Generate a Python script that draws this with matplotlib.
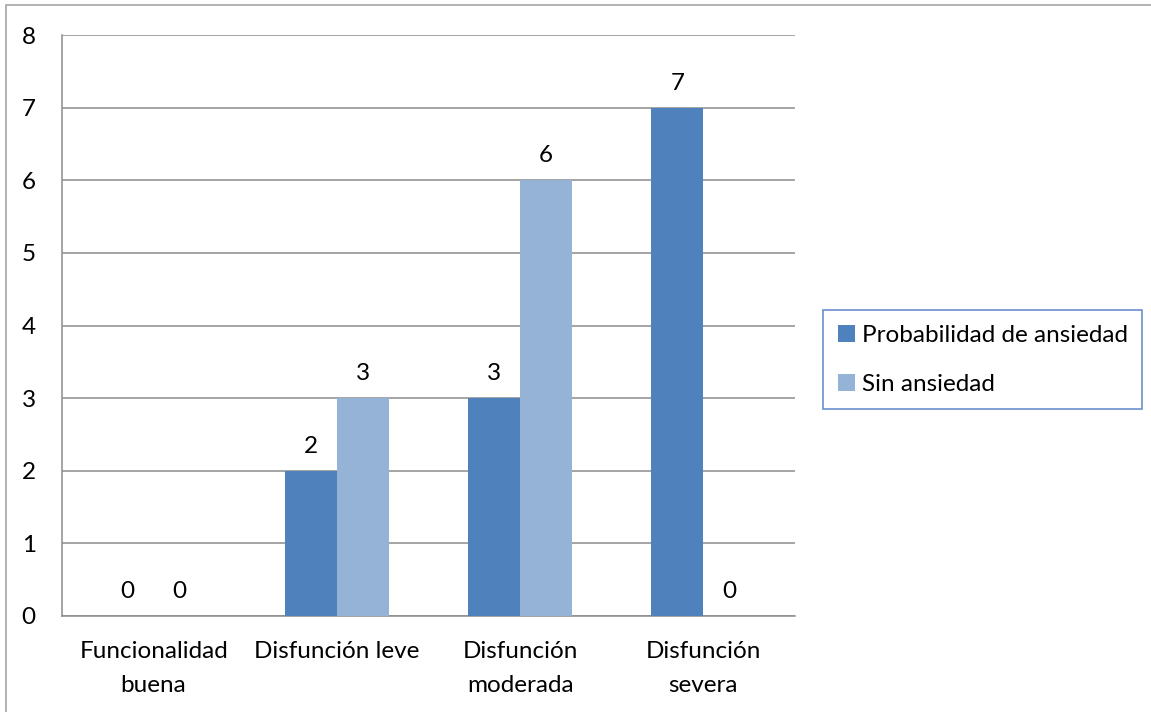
import numpy as np
import matplotlib
matplotlib.use("Agg")
import matplotlib.pyplot as plt
from matplotlib.patches import Rectangle

categories = ["Funcionalidad\nbuena", "Disfunción leve", "Disfunción\nmoderada", "Disfunción\nsevera"]
con_ansiedad = [0, 2, 3, 7]
sin_ansiedad = [0, 3, 6, 0]
series_names = ["Probabilidad de ansiedad", "Sin ansiedad"]
y_ticks = [0, 1, 2, 3, 4, 5, 6, 7, 8]

plt.rcParams['font.family'] = ['Lato', 'DejaVu Sans']
fs = 17.5

W, H = 1151, 712
fig = plt.figure(figsize=(W / 100, H / 100), dpi=100)

# grey frame round the whole chart
fig.patches.append(Rectangle((6 / W, -0.1), 1.2, (H - 5) / H + 0.1,
                             transform=fig.transFigure, fill=False,
                             edgecolor="#a6a6a6", linewidth=1.2))

ax = fig.add_axes([62 / W, (H - 616) / H, 733 / W, 581 / H])

x = np.arange(len(categories))
w = 0.284
dark = "#4f81bd"
light = "#95b3d7"
b1 = ax.bar(x - w / 2, con_ansiedad, w, color=dark, label=series_names[0], zorder=3)
b2 = ax.bar(x + w / 2, sin_ansiedad, w, color=light, label=series_names[1], zorder=3)

for bars, vals in ((b1, con_ansiedad), (b2, sin_ansiedad)):
    for rect, v in zip(bars, vals):
        ax.annotate(str(v), (rect.get_x() + rect.get_width() / 2, v),
                    xytext=(0, 10), textcoords="offset points",
                    ha="center", va="bottom", fontsize=fs)

ax.set_xlim(-0.5, len(categories) - 0.5)
ax.set_ylim(0, 8)
ax.set_yticks(y_ticks)
ax.set_xticks(x)
ax.set_xticklabels(categories, fontsize=fs, linespacing=1.75, va="top")
ax.tick_params(axis="y", length=0, pad=24, labelsize=fs)
ax.tick_params(axis="x", length=0, pad=18)
for lbl in ax.get_yticklabels():
    lbl.set_horizontalalignment("center")

ax.grid(axis="y", color="#8c8c8c", linewidth=1.1, zorder=0)
for s in ("top", "right"):
    ax.spines[s].set_visible(False)
ax.spines["left"].set_color("#8c8c8c")
ax.spines["bottom"].set_color("#8c8c8c")
ax.spines["left"].set_linewidth(1.1)
ax.spines["bottom"].set_linewidth(1.1)

leg = fig.legend(handles=[b1, b2], loc="upper left",
                 bbox_to_anchor=(823 / W, (H - 310) / H),
                 fontsize=fs, frameon=True, fancybox=False,
                 handlelength=0.7, handleheight=0.7, handletextpad=0.3,
                 labelspacing=1.15, borderpad=0.6, borderaxespad=0)
leg.get_frame().set_edgecolor("#4472c4")
leg.get_frame().set_linewidth(1.2)

fig.savefig("out.png", dpi=100)
